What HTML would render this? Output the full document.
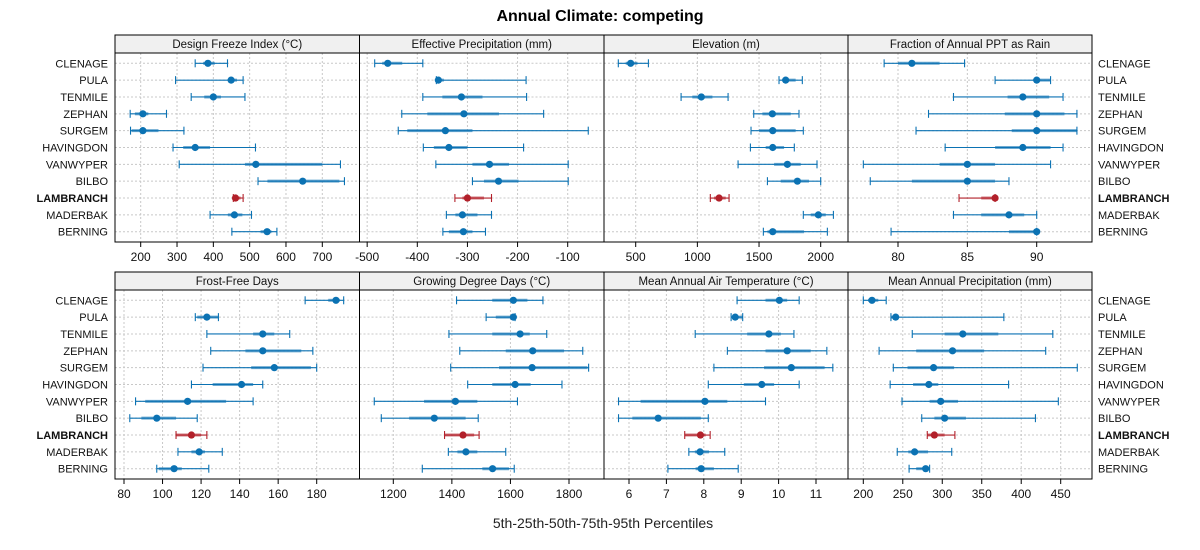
<!DOCTYPE html>
<html><head><meta charset="utf-8"><style>
body{margin:0;background:#fff;}
svg{display:block;font-family:"Liberation Sans",Arial,sans-serif;}
</style></head><body>
<svg id="chart" width="1200" height="550" viewBox="0 0 1200 550"></svg>
<script>
const sites=["CLENAGE","PULA","TENMILE","ZEPHAN","SURGEM","HAVINGDON","VANWYPER","BILBO","LAMBRANCH","MADERBAK","BERNING"];
const panelTitles=["Design Freeze Index (°C)","Effective Precipitation (mm)","Elevation (m)","Fraction of Annual PPT as Rain","Frost-Free Days","Growing Degree Days (°C)","Mean Annual Air Temperature (°C)","Mean Annual Precipitation (mm)"];
const ticks0=[200,300,400,500,600,700];
const ticks1=[-500,-400,-300,-200,-100];
const ticks2=[500,1000,1500,2000];
const ticks3=[80,85,90];
const ticks4=[80,100,120,140,160,180];
const ticks5=[1200,1400,1600,1800];
const ticks6=[6,7,8,9,10,11];
const ticks7=[200,250,300,350,400,450];
const dfiP5=[350,296,339,171,172,289,306,523,455,391,451];
const dfiP25=[372,442,375,184,175,317,487,549,457,440,530];
const dfiP50=[385,449,400,206,206,350,517,646,461,458,548];
const dfiP75=[404,465,421,221,249,391,700,747,475,480,560];
const dfiP95=[439,482,487,271,319,516,750,761,482,505,575];
const epP5=[-485,-362,-389,-431,-438,-388,-363,-290,-325,-342,-349];
const epP25=[-470,-361,-350,-380,-420,-367,-290,-267,-310,-324,-337];
const epP50=[-459,-358,-312,-307,-344,-337,-256,-238,-300,-310,-308];
const epP75=[-430,-347,-270,-237,-290,-300,-217,-198,-267,-280,-290];
const epP95=[-389,-183,-182,-148,-59,-188,-99,-99,-252,-252,-264];
const elP5=[359,1662,868,1457,1435,1430,1330,1568,1105,1859,1535];
const elP25=[419,1689,959,1527,1500,1554,1622,1676,1135,1919,1568];
const elP50=[459,1716,1032,1608,1611,1611,1730,1811,1176,1981,1611];
const elP75=[514,1797,1122,1757,1797,1703,1838,1905,1230,2041,1865];
const elP95=[603,1851,1249,1824,1859,1786,1970,2000,1257,2103,2054];
const frP5=[79.0,87.0,84.0,82.2,81.3,83.4,77.5,78.0,84.4,84.0,79.5];
const frP25=[80.0,89.9,87.9,87.7,88.2,87.0,83.0,81.0,86.0,86.0,88.0];
const frP50=[81.0,90.0,89.0,90.0,90.0,89.0,85.0,85.0,87.0,88.0,90.0];
const frP75=[83.0,91.0,90.9,92.0,92.9,91.0,87.0,87.0,87.0,89.1,90.0];
const frP95=[84.8,91.0,91.9,92.9,92.9,91.9,91.0,88.0,87.0,90.0,90.0];
const ffP5=[174,117,123,125,121,115,86,83,107,108,97];
const ffP25=[186,118,147,143,146,126,91,89,107,115,98];
const ffP50=[190,123,152,152,158,141,113,97,115,119,106];
const ffP75=[192,129,158,172,177,147,133,107,120,122,110];
const ffP95=[194,129,166,178,180,152,147,118,123,131,124];
const gdP5=[1416,1517,1390,1427,1396,1454,1135,1159,1375,1388,1299];
const gdP25=[1538,1550,1538,1584,1561,1538,1305,1254,1375,1419,1504];
const gdP50=[1610,1610,1633,1676,1674,1616,1412,1340,1438,1448,1539];
const gdP75=[1658,1616,1666,1783,1863,1669,1487,1447,1476,1487,1595];
const gdP95=[1711,1616,1724,1847,1867,1776,1624,1490,1493,1584,1613];
const maP5=[8.89,8.73,7.77,8.63,8.27,8.12,5.72,5.72,7.49,7.60,7.04];
const maP25=[9.65,8.76,9.16,9.65,9.61,9.07,6.31,6.09,7.49,7.76,7.78];
const maP50=[10.02,8.84,9.74,10.23,10.34,9.55,8.03,6.78,7.91,7.90,7.93];
const maP75=[10.23,9.04,10.06,10.86,11.23,9.88,8.63,7.92,8.05,8.14,8.27];
const maP95=[10.55,9.04,10.41,11.29,11.45,10.55,9.65,8.12,8.17,8.56,8.92];
const mpP5=[200,235,262,220,238,234,249,274,281,243,258];
const mpP25=[206,235,303,267,256,263,284,290,281,257,267];
const mpP50=[211,241,326,313,289,283,298,303,290,265,279];
const mpP75=[219,244,371,353,315,295,320,330,303,282,284];
const mpP95=[229,378,440,431,471,384,447,418,316,312,284];

const data=[[dfiP5,dfiP25,dfiP50,dfiP75,dfiP95],[epP5,epP25,epP50,epP75,epP95],[elP5,elP25,elP50,elP75,elP95],[frP5,frP25,frP50,frP75,frP95],[ffP5,ffP25,ffP50,ffP75,ffP95],[gdP5,gdP25,gdP50,gdP75,gdP95],[maP5,maP25,maP50,maP75,maP95],[mpP5,mpP25,mpP50,mpP75,mpP95]];
const tickSets=[ticks0,ticks1,ticks2,ticks3,ticks4,ticks5,ticks6,ticks7];
const cal=[[200,140.7,700,322.3],[-400,417.3,-100,567.7],[500,635.7,2000,820.7],[80,898,90,1036.7],[80,124,180,316.7],[1200,393.3,1800,569],[6,629,11,816],[200,863.3,450,1060.7]];
const panelX=[115,359.5,604,848,1092];
const rowTop=[35,272];
const NS="http://www.w3.org/2000/svg";
const svg=document.getElementById('chart');
function mk(tag,attrs,parent){const e=document.createElementNS(NS,tag);for(const k in attrs)e.setAttribute(k,attrs[k]);(parent||svg).appendChild(e);return e;}
function scaleFor(i){const c=cal[i];return v=>c[1]+(v-c[0])*(c[3]-c[1])/(c[2]-c[0]);}
const blue="#0b72b3",red="#b2202a";

const title=mk('text',{x:600,y:21,'text-anchor':'middle','font-size':16,'font-weight':'bold',fill:'#000'});


title.textContent="Annual Climate: competing";
const xl=mk('text',{x:603,y:528,'text-anchor':'middle','font-size':14,fill:'#222'});


xl.textContent="5th-25th-50th-75th-95th Percentiles";

for(let r=0;r<2;r++){
  const top=rowTop[r],hb=top+18,bot=top+207;
  const rowY=k=>top+28.3+k*16.84;
  sites.forEach((s,k)=>{
    const bold=s==="LAMBRANCH";
    const l=mk('text',{x:108,y:rowY(k)+4,'text-anchor':'end','font-size':11,'font-weight':bold?'bold':'normal',fill:'#111'});
    
    
    l.textContent=s;
    const l2=mk('text',{x:1098,y:rowY(k)+4,'text-anchor':'start','font-size':11,'font-weight':bold?'bold':'normal',fill:'#111'});
    
    
    l2.textContent=s;
  });
  for(let c=0;c<4;c++){
    const i=r*4+c,x0=panelX[c],x1=panelX[c+1];
    const sx=scaleFor(i);
    const g=mk('g',{});
    
    
    mk('rect',{x:x0,y:top,width:x1-x0,height:18,fill:'#f0f0f0',stroke:'#000','stroke-width':1},g);
    const pt=mk('text',{x:(x0+x1)/2,y:top+13,'text-anchor':'middle','font-size':11.5,fill:'#111'},g);
    
    
    pt.textContent=panelTitles[i];
    sites.forEach((s,k)=>mk('line',{x1:x0,x2:x1,y1:rowY(k),y2:rowY(k),stroke:'#c8c8c8','stroke-dasharray':'2,2','stroke-width':1},g));
    tickSets[i].forEach(t=>{
      const x=sx(t);
      if(x>x0+1&&x<x1-1) mk('line',{x1:x,x2:x,y1:hb,y2:bot,stroke:'#c8c8c8','stroke-dasharray':'2,2','stroke-width':1},g);
      mk('line',{x1:x,x2:x,y1:bot,y2:bot+5,stroke:'#000','stroke-width':1},g);
      const tl=mk('text',{x:x,y:bot+19,'text-anchor':'middle','font-size':12,fill:'#111'},g);
      
      
      tl.textContent=t;
    });
    mk('rect',{x:x0,y:hb,width:x1-x0,height:bot-hb,fill:'none',stroke:'#000','stroke-width':1},g);
    const [p5,p25,p50,p75,p95]=data[i];
    sites.forEach((s,k)=>{
      const y=rowY(k),col=s==="LAMBRANCH"?red:blue;
      const a=sx(p5[k]),b=sx(p95[k]);
      mk('line',{x1:a,x2:b,y1:y,y2:y,stroke:col,'stroke-width':1.1},g);
      mk('line',{x1:a,x2:a,y1:y-4,y2:y+4,stroke:col,'stroke-width':1.1},g);
      mk('line',{x1:b,x2:b,y1:y-4,y2:y+4,stroke:col,'stroke-width':1.1},g);
      const th=mk('line',{x1:sx(p25[k]),x2:sx(p75[k]),y1:y,y2:y,stroke:col,'stroke-width':3,'stroke-opacity':0.6},g);
      
      
      const d=mk('circle',{cx:sx(p50[k]),cy:y,r:3.6,fill:col},g);
      
      
    });
  }
}
</script>
</body></html>
